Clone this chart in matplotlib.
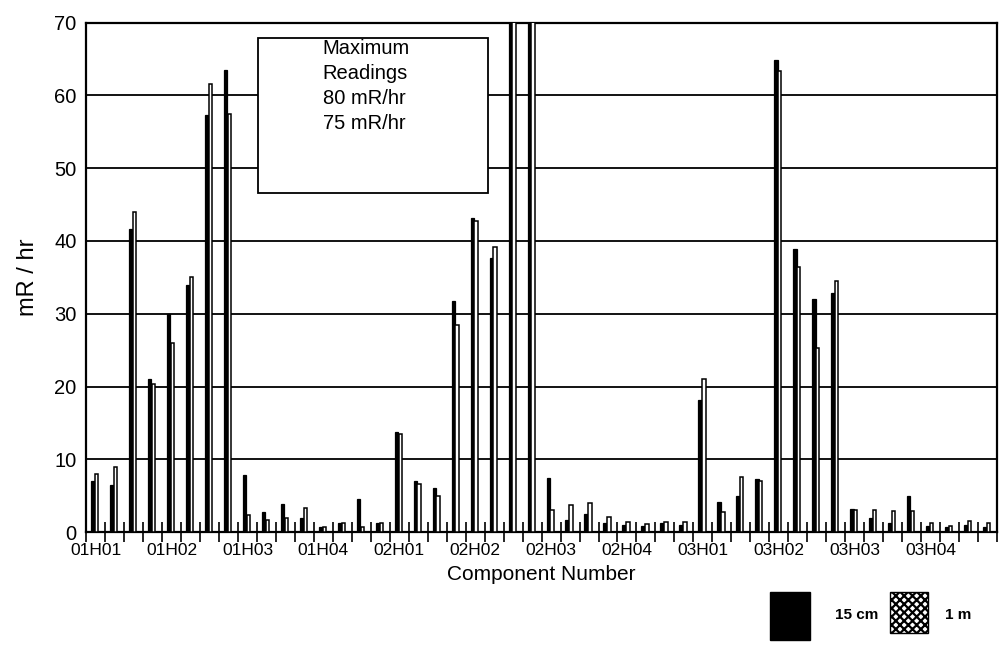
import numpy as np
import matplotlib.pyplot as plt
from matplotlib.patches import Rectangle

plt.rcParams['font.family'] = ['Liberation Sans', 'DejaVu Sans']
plt.rcParams['hatch.linewidth'] = 1.6

## the data
components = ['01H01', '01H02', '01H03', '01H04',
              '02H01', '02H02', '02H03', '02H04',
              '03H01', '03H02', '03H03', '03H04']

# dose rate at 15 cm, four readings per component
reading_15cm = [7.0, 6.5, 41.7, 21.0, 30.0, 34.0, 57.3, 63.5,
                7.9, 2.7, 3.9, 1.9, 0.7, 1.2, 4.6, 1.2,
                13.7, 7.0, 6.0, 31.8, 43.2, 37.7, 80.0, 78.0,
                7.5, 1.6, 2.5, 1.2, 1.0, 0.9, 1.2, 1.0,
                18.2, 4.1, 5.0, 7.3, 64.8, 38.9, 32.0, 32.9,
                3.2, 1.9, 1.2, 5.0, 0.8, 0.7, 1.0, 0.7]

# dose rate at 1 m
reading_1m = [8.0, 8.9, 44.0, 20.3, 26.0, 35.0, 61.5, 57.5,
              2.3, 1.7, 2.0, 3.3, 0.7, 1.2, 0.7, 1.3,
              13.5, 6.6, 4.9, 28.5, 42.8, 39.2, 75.0, 72.0,
              3.0, 3.7, 4.0, 2.1, 1.4, 1.1, 1.4, 1.4,
              21.0, 2.8, 7.6, 7.0, 63.3, 36.4, 25.3, 34.5,
              3.0, 3.0, 2.9, 2.9, 1.2, 0.8, 1.5, 1.2]

max_readings = [80, 75]

N = len(reading_15cm)
ind = np.arange(N)       # one slot per reading
width = 0.18             # width of each bar

fig = plt.figure(figsize=(10.02, 6.45), dpi=100)
ax = fig.add_axes([0.086, 0.175, 0.909, 0.79])

## the bars
ax.bar(ind - 0.15, reading_15cm, width, color='black',
       edgecolor='black', linewidth=0.9, zorder=3)
ax.bar(ind + 0.05, reading_1m, width, color='white',
       edgecolor='black', linewidth=1.1, zorder=3)

# axes and labels
ax.set_xlim(-0.5, N - 0.5)
ax.set_ylim(0, 70)
ax.set_yticks(range(0, 71, 10))
ax.yaxis.grid(True, color='black', linewidth=1.3)
ax.set_axisbelow(True)
for sp in ax.spines.values():
    sp.set_linewidth(1.6)

ax.set_xticks(ind[::4])
ax.set_xticklabels(components)
ax.set_xticks(np.arange(N + 1) - 0.5, minor=True)
ax.tick_params(axis='x', which='major', length=0, pad=8, labelsize=12.5)
ax.tick_params(axis='x', which='minor', direction='inout', length=14, width=1.2)
ax.tick_params(axis='y', length=0, pad=7, labelsize=14.5)

ax.set_ylabel('mR / hr', fontsize=17, labelpad=11)
ax.set_xlabel('Component Number', fontsize=15, labelpad=5)

## note box for the off-scale bars
fig.patches.append(Rectangle((0.2575, 0.7008), 0.2295, 0.2403, transform=fig.transFigure,
                             facecolor='white', edgecolor='black', linewidth=1.3, zorder=5))
note = 'Maximum\nReadings\n' + '\n'.join('%d mR/hr' % m for m in max_readings)
fig.text(0.322, 0.940, note, ha='left', va='top', fontsize=14.5,
         linespacing=1.4, zorder=6)

## key below the axes
fig.patches.append(Rectangle((0.7685, 0.008), 0.040, 0.074, transform=fig.transFigure,
                             facecolor='black', edgecolor='black'))
fig.text(0.833, 0.047, '15 cm', fontsize=11, va='center', fontweight='bold')
fig.patches.append(Rectangle((0.888, 0.018), 0.038, 0.064, transform=fig.transFigure,
                             facecolor='white', edgecolor='black', hatch='XXXX'))
fig.text(0.943, 0.047, '1 m', fontsize=11, va='center', fontweight='bold')

# Save the figure
fig.savefig('out.png', dpi=100)
